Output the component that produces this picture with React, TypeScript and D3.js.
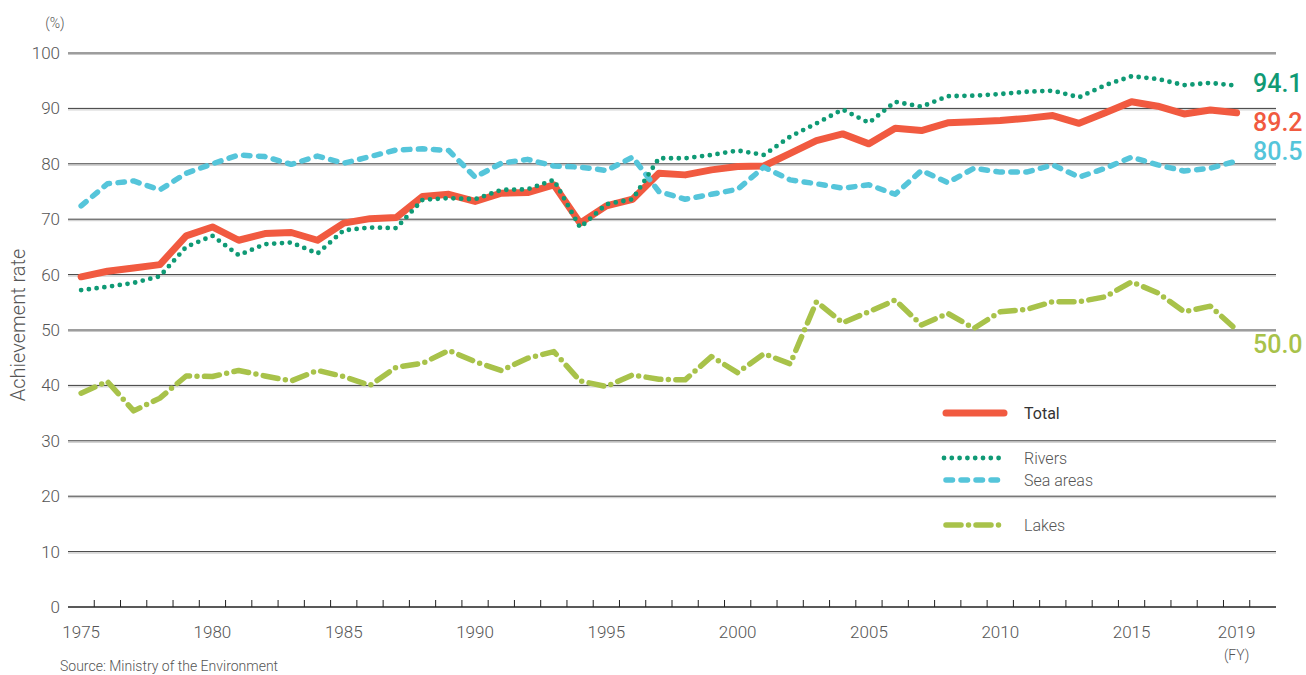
import React from "react"
import * as d3 from "d3"

// fiscal years on the x axis
const years = [
  1975, 1976, 1977, 1978, 1979, 1980, 1981, 1982, 1983, 1984,
  1985, 1986, 1987, 1988, 1989, 1990, 1991, 1992, 1993, 1994,
  1995, 1996, 1997, 1998, 1999, 2000, 2001, 2002, 2003, 2004,
  2005, 2006, 2007, 2008, 2009, 2010, 2011, 2012, 2013, 2014,
  2015, 2016, 2017, 2018, 2019,
]

const total = [
  59.6, 60.6, 61.2, 61.8, 67.0, 68.6, 66.2, 67.4, 67.6, 66.2,
  69.3, 70.1, 70.3, 74.1, 74.5, 73.2, 74.7, 74.8, 76.2, 69.3,
  72.4, 73.6, 78.3, 78.0, 78.9, 79.5, 79.6, 81.9, 84.2, 85.4,
  83.6, 86.4, 86.0, 87.4, 87.6, 87.8, 88.2, 88.7, 87.3, 89.2,
  91.2, 90.4, 89.0, 89.7, 89.2,
]

const rivers = [
  57.2, 57.8, 58.5, 59.7, 65.0, 67.0, 63.5, 65.5, 65.8, 63.8,
  68.0, 68.5, 68.4, 73.5, 73.8, 73.6, 75.3, 75.4, 77.1, 68.5,
  72.7, 73.6, 81.0, 81.0, 81.6, 82.4, 81.6, 84.9, 87.3, 89.8,
  87.4, 91.2, 90.3, 92.2, 92.3, 92.6, 93.0, 93.2, 92.0, 94.2,
  95.8, 95.3, 94.2, 94.6, 94.1,
]

const seaAreas = [
  72.4, 76.4, 76.9, 75.3, 78.3, 80.0, 81.6, 81.3, 79.9, 81.4,
  80.1, 81.3, 82.5, 82.7, 82.4, 77.6, 80.1, 80.8, 79.6, 79.4,
  78.8, 81.2, 75.0, 73.6, 74.5, 75.4, 79.4, 77.1, 76.4, 75.6,
  76.2, 74.5, 78.8, 76.6, 79.2, 78.5, 78.5, 79.8, 77.6, 79.2,
  81.2, 79.8, 78.7, 79.2, 80.5,
]

const lakes = [
  38.6, 40.7, 35.4, 37.7, 41.7, 41.6, 42.7, 41.7, 40.8, 42.7,
  41.6, 40.0, 43.3, 44.0, 46.3, 44.3, 42.7, 44.9, 46.1, 40.8,
  39.8, 41.9, 41.1, 41.0, 45.2, 42.3, 45.7, 43.9, 55.1, 51.3,
  53.3, 55.4, 50.9, 53.0, 50.3, 53.3, 53.7, 55.1, 55.1, 56.0,
  58.7, 56.7, 53.3, 54.3, 50.0,
]

const yTicks = [0, 10, 20, 30, 40, 50, 60, 70, 80, 90, 100]
const xLabelYears = [1975, 1980, 1985, 1990, 1995, 2000, 2005, 2010, 2015, 2019]

const FONT = "Roboto, 'DejaVu Sans', sans-serif"

type Series = {
  name: string
  values: number[]
  color: string
  width: number
  dash: string | null
  legendY: number
  labelDy: number
}

// draw order: lakes, total, sea areas, rivers (rivers on top)
const series: Series[] = [
  { name: "Lakes", values: lakes, color: "#a8c24a", width: 5.5, dash: "15 7.5 0 7.5", legendY: 525, labelDy: 14 },
  { name: "Total", values: total, color: "#f15a40", width: 7, dash: null, legendY: 413, labelDy: 10 },
  { name: "Sea areas", values: seaAreas, color: "#55c5da", width: 5.5, dash: "6.5 8.5", legendY: 480, labelDy: -10 },
  { name: "Rivers", values: rivers, color: "#0f9a75", width: 4.8, dash: "0 7.8", legendY: 458, labelDy: -2 },
]

export default function App() {
  const width = 1306
  const height = 675
  const left = 68
  const right = 1276
  const top = 53
  const bottom = 607

  // one band per fiscal year, plus one empty band after 2019
  const x = d3
    .scaleBand<number>()
    .domain([...years, 2020])
    .range([left, right])
    .paddingInner(0)
    .paddingOuter(0)
  const bw = x.bandwidth()
  const cx = (yr: number) => (x(yr) as number) + bw / 2

  const y = d3.scaleLinear().domain([0, 100]).range([bottom, top])

  const line = (vals: number[]) =>
    d3
      .line<number>()
      .x((_, i) => cx(years[i]))
      .y((d) => y(d))
      .curve(d3.curveLinear)(vals) as string

  return (
    <svg
      width={width}
      height={height}
      style={{ position: "absolute", left: 0, top: 0, display: "block", background: "#fff" }}
      fontFamily={FONT}
    >
      {/* grid */}
      <g>
        {yTicks.map((t) =>
          t === 0 ? null : (
            <g key={t}>
              <line x1={left} x2={right} y1={y(t) + 1.5} y2={y(t) + 1.5} stroke="#c8c8c8" strokeWidth={1} />
              <line x1={left} x2={right} y1={y(t)} y2={y(t)} stroke="#3c3c3c" strokeWidth={1} />
            </g>
          )
        )}
      </g>

      {/* y tick labels */}
      <g fontSize={17} fill="#555" fontWeight={300}>
        {yTicks.map((t) => (
          <text key={t} x={60} y={y(t)} textAnchor="end" dominantBaseline="central">
            {t}
          </text>
        ))}
        <text x={55} y={23} textAnchor="middle" fontSize={14} dominantBaseline="central">
          (%)
        </text>
      </g>
      <text
        transform={`translate(25,325) rotate(-90)`}
        textAnchor="middle"
        fontSize={20}
        fill="#555"
        fontWeight={300}
      >
        Achievement rate
      </text>

      {/* x axis */}
      <g>
        <line x1={left} x2={right} y1={bottom} y2={bottom} stroke="#222" strokeWidth={1.3} />
        {years.slice(1).concat([2020]).map((yr) => (
          <line
            key={yr}
            x1={x(yr) as number}
            x2={x(yr) as number}
            y1={bottom}
            y2={bottom - 7}
            stroke="#222"
            strokeWidth={1}
          />
        ))}
        {xLabelYears.map((yr) => (
          <text
            key={yr}
            x={cx(yr)}
            y={638}
            textAnchor="middle"
            fontSize={17}
            fill="#555"
            fontWeight={300}
          >
            {yr}
          </text>
        ))}
        <text x={cx(2019)} y={660} textAnchor="middle" fontSize={14} fill="#555" fontWeight={300}>
          (FY)
        </text>
      </g>

      {/* lines */}
      <g fill="none">
        {series.map((s) => (
          <path
            key={s.name}
            d={line(s.values)}
            stroke={s.color}
            strokeWidth={s.width}
            strokeLinecap="round"
            strokeLinejoin="round"
            strokeDasharray={s.dash ?? undefined}
          />
        ))}
      </g>

      {/* end-value labels */}
      <g fontSize={25} fontWeight={500}>
        {series.map((s) => {
          const v = s.values[s.values.length - 1]
          return (
            <text
              key={s.name}
              x={1253}
              y={y(v) + s.labelDy}
              fill={s.color}
              dominantBaseline="central"
            >
              {v.toFixed(1)}
            </text>
          )
        })}
      </g>

      {/* legend */}
      <g>
        {series.map((s) => (
          <g key={s.name}>
            <line
              x1={s.dash === "0 7.8" ? 944 : 946}
              x2={1004}
              y1={s.legendY}
              y2={s.legendY}
              stroke={s.color}
              strokeWidth={s.width}
              strokeLinecap="round"
              strokeDasharray={s.dash ?? undefined}
            />
            <text
              x={1024}
              y={s.legendY}
              dominantBaseline="central"
              fontSize={16}
              fill={s.name === "Total" ? "#333" : "#555"}
              fontWeight={s.name === "Total" ? 400 : 300}
            >
              {s.name}
            </text>
          </g>
        ))}
      </g>

      <text x={60} y={671} fontSize={14} fill="#555" fontWeight={300}>
        Source: Ministry of the Environment
      </text>
    </svg>
  )
}
